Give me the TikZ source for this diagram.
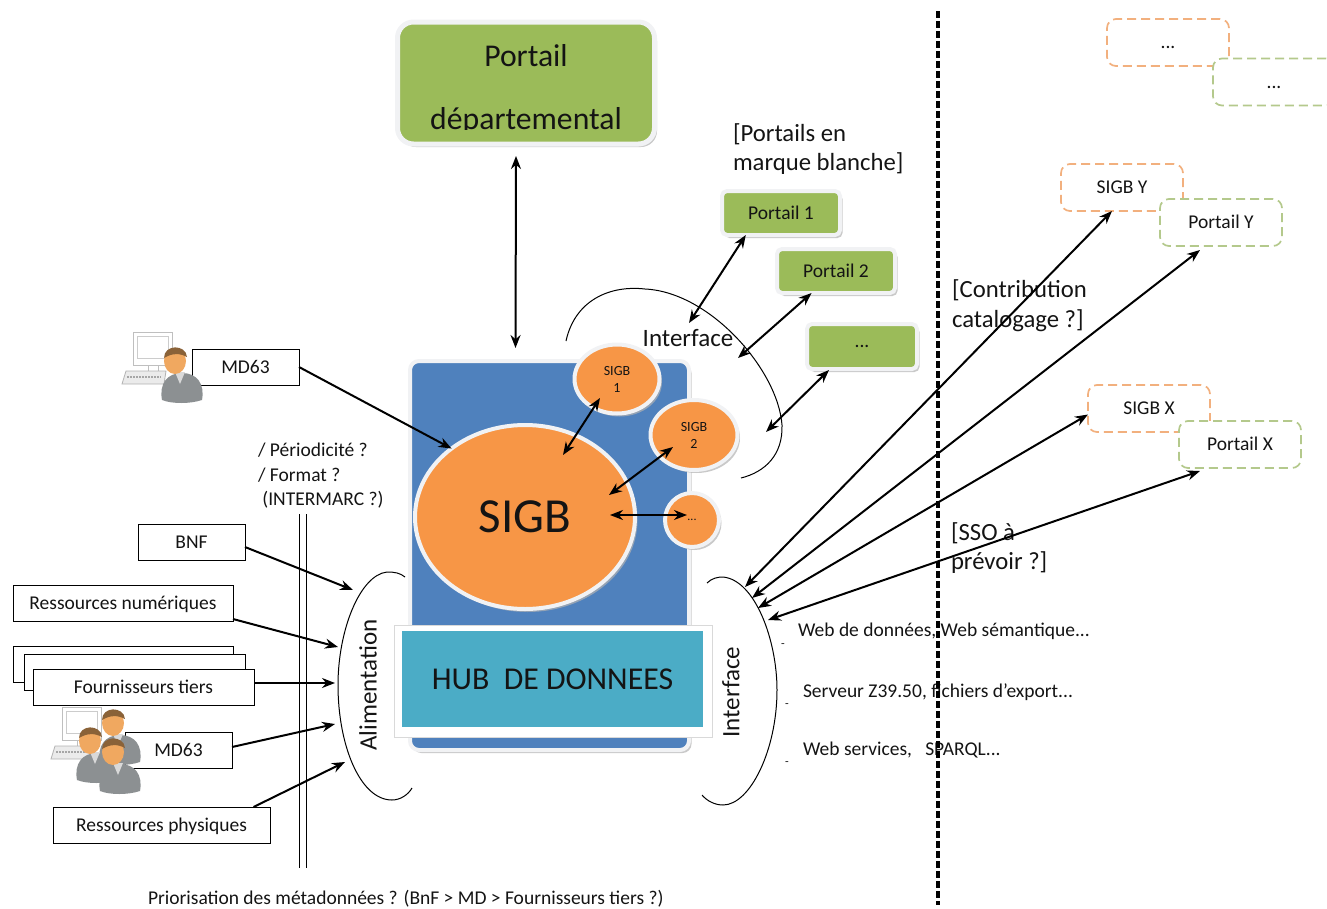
\documentclass[tikz,border=0pt]{standalone}
\usepackage{fontspec}
\setmainfont{Carlito}
\usepackage{tikz}
\usetikzlibrary{positioning,arrows.meta,shadows,shapes.geometric}
\definecolor{gblock}{HTML}{9BBB59}
\definecolor{oblock}{HTML}{F79646}
\definecolor{bblock}{HTML}{4F81BD}
\definecolor{tblock}{HTML}{4BACC6}
\definecolor{rimgrey}{HTML}{F1F2F4}
\definecolor{dashorange}{HTML}{F2B07E}
\definecolor{dashgreen}{HTML}{B4C98C}
\definecolor{bodygrey}{HTML}{8C9092}
\definecolor{skinface}{HTML}{F0A860}
\definecolor{hairbrown}{HTML}{8A6238}

\begin{document}
\begin{tikzpicture}[x=1pt,y=-1pt,>={Stealth[length=13pt,width=10pt]},
    every node/.style={outer sep=0pt,inner sep=0pt,text=black!92},
    glow/.style={draw=rimgrey,line width=4pt,drop shadow={shadow xshift=2.5pt,shadow yshift=-3pt,fill=black!30,opacity=.7}},
    portalbox/.style={glow,fill=gblock,rounded corners=5pt,minimum width=#1pt,font=\fontsize{19.5}{21}\selectfont},
    sigbdisc/.style={glow,ellipse,fill=oblock,font=\fontsize{14}{17}\selectfont,align=center},
    plainbox/.style={draw=black,line width=.9pt,fill=white,minimum height=36pt,minimum width=#1pt,text height=14pt,text depth=2pt,font=\fontsize{19.5}{21}\selectfont},
    sigbdash/.style={draw=dashorange,line width=1.7pt,dash pattern=on 9pt off 5pt,rounded corners=9pt,fill=white,minimum width=122pt,minimum height=47pt,text height=14pt,text depth=2pt,font=\fontsize{19.5}{21}\selectfont},
    portdash/.style={sigbdash,draw=dashgreen},
    lab/.style={anchor=west,align=left,font=\fontsize{19.5}{25}\selectfont},
    biglab/.style={anchor=west,align=left,font=\fontsize{24.7}{29.5}\selectfont},
    flow/.style={line width=2pt},
    brace/.style={draw=black,line width=1pt},
    pics/deskicon/.style={code={
        \draw[black!25,line width=1pt,fill=white] (0,0) rectangle (39,33);
        \draw[black!20,line width=.7pt] (4,4) rectangle (35,26);
        \draw[black!25,line width=1pt] (15,33) -- (15,40) (25,33) -- (25,40);
        \draw[black!30,line width=.8pt,fill=black!8] (-7,39) -- (33,39) -- (31,52) -- (-11,52) -- cycle;
        \draw[black!35,line width=2pt,dash pattern=on 1.5pt off 1.5pt] (-6,45) -- (28,45);
    }},
    pics/usericon/.style={code={
        \fill[bodygrey] (-13,40) .. controls (-16,24) and (-8,13) .. (7,13) .. controls (22,13) and (30,24) .. (27,40) .. controls (15,44) and (-3,44) .. (-13,40) -- cycle;
        \fill[white!85!black] (0,12) -- (10,12) -- (5,24) -- cycle;
        \fill[skinface] (0,1) ellipse (11 and 13);
        \fill[hairbrown] (-11,-2) .. controls (-11,-16) and (11,-16) .. (12,-3) .. controls (5,-7) and (-3,-7) .. (-11,-2) -- cycle;
    }}]
    \useasboundingbox (0,0) rectangle (1327,908);

    \node[glow,line width=5pt,fill=gblock,rounded corners=16pt,minimum width=257pt,minimum height=122pt] (Dep) at (526,83) {};
    \begin{scope}
        \clip (380,0) rectangle (670,129);
        \node[align=center,font=\fontsize{31.7}{63}\selectfont] (DepText) at (526,89.5) {Portail\\départemental};
    \end{scope}

    \node[portalbox=118,minimum height=44pt] (PA) at (781,213) {Portail 1};
    \node[portalbox=118,minimum height=44pt] (PB) [below right=14pt and -63pt of PA] {Portail 2};
    \node[portalbox=110,minimum height=45pt] (PC) [below right=31pt and -88pt of PB] {...};
    \node[biglab] (PortNote) at (733,149) {[Portails en\\marque blanche]};

    \node[glow,fill=bblock,rounded corners=9pt,minimum width=279pt,minimum height=389pt] (Blue) at (549.5,555.5) {};
    \node[glow,ellipse,fill=oblock,minimum width=220pt,minimum height=184pt,font=\fontsize{49}{56}\selectfont] (Sigb) at (525,517) {SIGB};
    \node[sigbdisc,minimum width=85pt,minimum height=69pt] (SA) at (617,379) {SIGB\\1};
    \node[sigbdisc,minimum width=87pt,minimum height=70pt] (SB) at (694,435) {SIGB\\2};
    \node[sigbdisc,minimum width=54pt,minimum height=54pt,font=\fontsize{12}{14}\selectfont] (SC) at (692,520) {...};
    \node[draw=black!15,line width=.8pt,fill=white,minimum width=318pt,minimum height=112pt] (HubRim) at (553,681) {};
    \node[fill=tblock,minimum width=301pt,minimum height=96pt,font=\fontsize{31.8}{36}\selectfont] (Hub) [below right=-106pt and -310pt of HubRim] {HUB\ \ DE DONNEES};

    \node[plainbox=107] (MDA) at (245.5,367) {MD63};
    \node[plainbox=107] (Bnf) at (191.5,542) {BNF};
    \node[plainbox=220] (Num) at (123,603) {Ressources numériques};
    \node[plainbox=220] (FourA) at (123,664) {};
    \node[plainbox=221] (FourB) [below right=-28pt and -209pt of FourA] {};
    \node[plainbox=221] (FourC) [below right=-21pt and -212pt of FourB] {Fournisseurs tiers};
    \node[plainbox=107] (MDB) at (178.5,750) {MD63};
    \node[plainbox=217] (Phys) at (161.5,825) {Ressources physiques};

    \pic (DeskA) at (133,332) {deskicon};
    \pic (UserA) at (175,360) {usericon};
    \pic (DeskB) at (62,707) {deskicon};
    \pic (UserB) at (113,722) {usericon};
    \pic (UserC) at (90,740) {usericon};
    \pic (UserD) at (113,751) {usericon};

    \draw[line width=.8pt] (299,514) -- (299,868) (306,514) -- (306,868);
    \node[lab,font=\fontsize{19.5}{24.5}\selectfont] (Period) at (258,476) {/ Périodicité ?\\/ Format ?\\\ (INTERMARC ?)};

    \draw[brace] (566,341) .. controls (575,300) and (610,285) .. (645,289) .. controls (710,292) and (778,370) .. (782,425) .. controls (783,455) and (765,472) .. (741,478);
    \draw[brace] (405,577) .. controls (400,573) and (395,572) .. (387,572) .. controls (360,575) and (338,630) .. (338,685) .. controls (338,745) and (360,800) .. (392,800) .. controls (400,800) and (408,795) .. (412,788);
    \draw[brace] (707,583) .. controls (712,578) and (718,577) .. (723,577) .. controls (755,580) and (777,640) .. (777,690) .. controls (777,750) and (750,805) .. (723,805) .. controls (715,805) and (707,801) .. (702,795);
    \node[font=\fontsize{25}{28}\selectfont] (IfTop) at (688,338) {Interface};
    \node[rotate=90,font=\fontsize{25}{28}\selectfont] (IfRight) at (731,692) {Interface};
    \node[rotate=90,font=\fontsize{25}{28}\selectfont] (Alim) at (368,685) {Alimentation};

    \node[sigbdash] (DotsO) at (1168,42.5) {...};
    \node[portdash] (DotsG) at (1274,82) {...};
    \node[sigbdash] (SY) at (1122,187.5) {SIGB Y};
    \node[portdash] (PY) [below right=-12pt and -23pt of SY] {Portail Y};
    \node[sigbdash] (SX) at (1149,408.5) {SIGB X};
    \node[portdash] (PX) [below right=-11pt and -31pt of SX] {Portail X};

    \node[biglab] (Contrib) at (952,305.5) {[Contribution\\catalogage ?]};
    \node[biglab] (Sso) at (951,548) {[SSO à\\prévoir ?]};
    \node[lab] (WebA) at (798,631) {Web de données, Web sémantique...};
    \node[lab] (WebB) at (803,692) {Serveur Z39.50, fichiers d’export...};
    \node[lab] (WebC) at (803,750) {Web services,\ \ \ SPARQL...};
    \node[font=\fontsize{12}{14}\selectfont] (DashA) at (783,646) {-};
    \node[font=\fontsize{12}{14}\selectfont] (DashB) at (787,706) {-};
    \node[font=\fontsize{12}{14}\selectfont] (DashC) at (787,764) {-};
    \node[lab,font=\fontsize{19.5}{22}\selectfont] (Prio) at (148,899) {Priorisation des métadonnées ? (BnF > MD > Fournisseurs tiers ?)};

    \draw[black,line width=4.5pt,dash pattern=on 6.5pt off 3.5pt] (938,11) -- (938,905);

    \coordinate (AlimA) at (353,590);
    \coordinate (AlimB) at (338,647);
    \coordinate (AlimC) at (335,683);
    \coordinate (AlimD) at (335,724);
    \coordinate (AlimE) at (345,762);
    \coordinate (IfA) at (745,587);
    \coordinate (IfB) at (752,598);
    \coordinate (IfC) at (758,608);
    \coordinate (IfD) at (768,620);
    \coordinate (TopA) at (689,323);
    \coordinate (TopB) at (738,358);
    \coordinate (TopC) at (766,432);

    \path[<->,flow] ([xshift=-10pt,yshift=-12pt]Dep.south) edge ([xshift=-34pt,yshift=13pt]Blue.north);
    \path[<->,flow] (PA.212) edge (TopA);
    \path[<->,flow] (PB.222) edge (TopB);
    \path[<->,flow] ([xshift=-33pt,yshift=-1pt]PC.south) edge (TopC);
    \path[->,flow] (MDA.east) edge (Sigb.137);
    \path[<->,flow] ([xshift=-17pt,yshift=-19pt]SA.center) edge ([xshift=38pt,yshift=62pt]Sigb.center);
    \path[<->,flow] ([xshift=-21pt,yshift=-12pt]SB.center) edge ([xshift=84pt,yshift=22pt]Sigb.center);
    \path[<->,flow] ([xshift=-5pt,yshift=5pt]SC.center) edge ([xshift=85pt,yshift=2pt]Sigb.center);
    \path[->,flow] ([yshift=-5pt]Bnf.east) edge (AlimA);
    \path[->,flow] ([yshift=-16pt]Num.east) edge (AlimB);
    \path[->,flow] ([yshift=4pt]FourC.east) edge (AlimC);
    \path[->,flow] ([yshift=3pt]MDB.east) edge (AlimD);
    \path[->,flow] ([xshift=92pt]Phys.north) edge (AlimE);
    \path[<->,flow] ([xshift=-10pt]SY.south) edge (IfA);
    \path[<->,flow] ([xshift=-21pt,yshift=-4pt]PY.south) edge (IfB);
    \path[<->,flow] ([yshift=-6pt]SX.west) edge (IfC);
    \path[<->,flow] ([xshift=-40pt,yshift=-3pt]PX.south) edge (IfD);
\end{tikzpicture}
\end{document}
